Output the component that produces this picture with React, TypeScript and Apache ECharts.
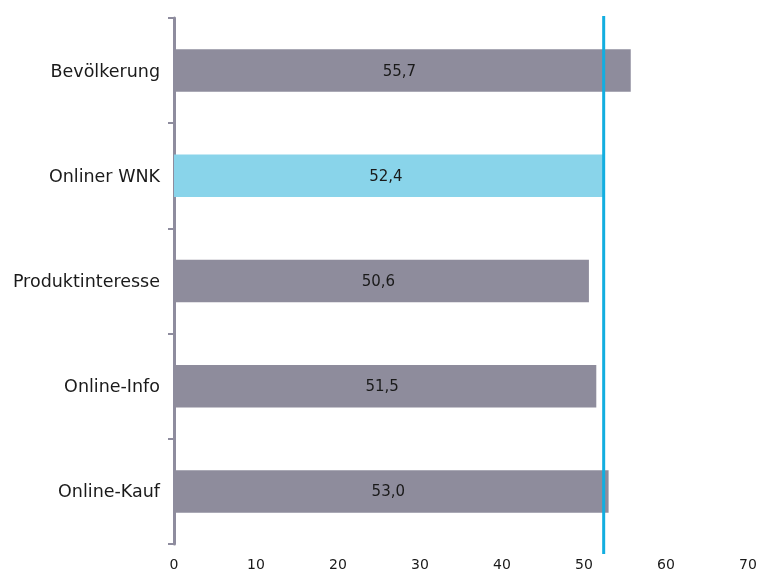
import React, { useEffect, useRef } from "react";
import * as echarts from "echarts";

const categories = ["Bevölkerung", "Onliner WNK", "Produktinteresse", "Online-Info", "Online-Kauf"];
const values = [55.7, 52.4, 50.6, 51.5, 53.0];
const highlightIndex = 1;
const referenceValue = 52.4;
const xTicks = [0, 10, 20, 30, 40, 50, 60, 70];

export default function App() {
  const ref = useRef<HTMLDivElement>(null);
  useEffect(() => {
    if (!ref.current) return;
    const chart = echarts.init(ref.current, null, { renderer: "svg" });
    const font = "'DejaVu Sans', Verdana, sans-serif";
    chart.setOption({
      animation: false,
      grid: { left: 174, right: 12, top: 18, bottom: 27, containLabel: false },
      xAxis: {
        type: "value",
        min: xTicks[0],
        max: xTicks[xTicks.length - 1],
        interval: 10,
        axisLine: { show: false },
        axisTick: { show: false },
        splitLine: { show: false },
        axisLabel: { color: "#1a1a1a", fontSize: 14, fontFamily: font, margin: 13 },
      },
      yAxis: {
        type: "category",
        data: categories,
        inverse: true,
        axisLine: { show: true, lineStyle: { color: "#8e8c9e", width: 3 } },
        axisTick: { show: true, length: 6, alignWithLabel: false, lineStyle: { color: "#8e8c9e", width: 2 } },
        axisLabel: { color: "#1a1a1a", fontSize: 17.5, fontFamily: font, margin: 14 },
        splitLine: { show: false },
      },
      series: [
        {
          type: "bar",
          barWidth: 42.5,
          data: values.map((v, i) => ({
            value: v,
            itemStyle: { color: i === highlightIndex ? "#89d4ea" : "#8e8c9c" },
          })),
          label: {
            show: true,
            position: "inside",
            color: "#1a1a1a",
            fontSize: 15,
            fontFamily: font,
            offset: [-3, 0],
            formatter: (p: any) => p.value.toFixed(1).replace(".", ","),
          },
        },
      ],
    });
    const x = chart.convertToPixel({ xAxisIndex: 0 }, referenceValue) as number;
    chart.setOption({
      graphic: [
        {
          type: "line",
          shape: { x1: x, y1: 16, x2: x, y2: 554 },
          style: { stroke: "#12aee0", lineWidth: 3 },
          z: 100,
        },
      ],
    });
    return () => chart.dispose();
  }, []);
  return <div ref={ref} style={{ position: "fixed", left: 0, top: 0, width: 760, height: 571 }} />;
}
